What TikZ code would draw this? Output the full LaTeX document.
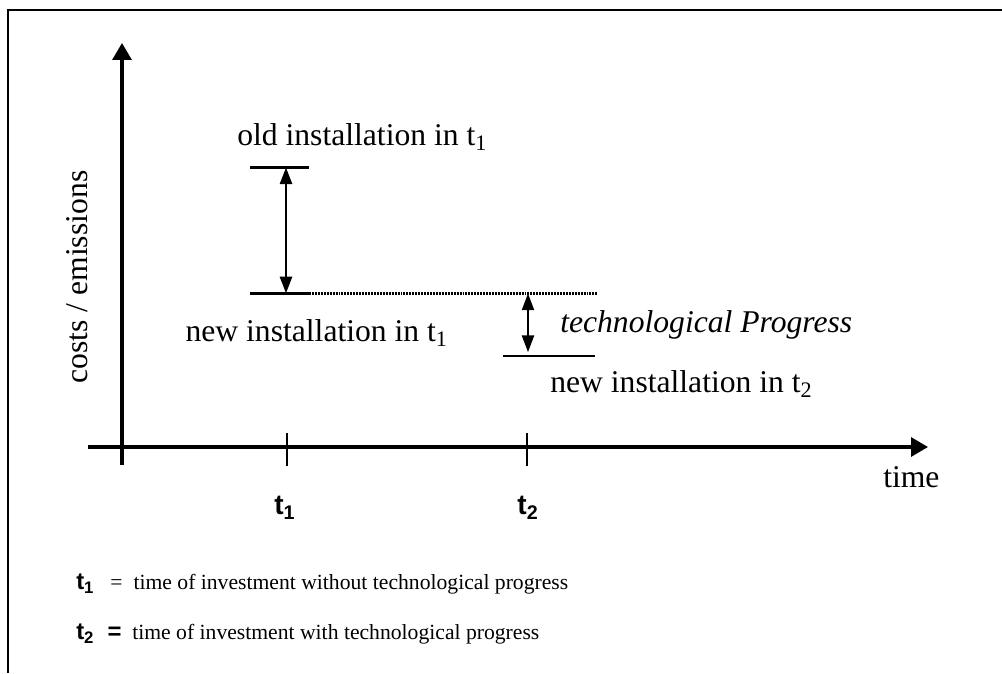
\documentclass[tikz,border=0pt]{standalone}
\usepackage{fontspec}
\setmainfont{Liberation Serif}
\setsansfont{Liberation Sans}
\usetikzlibrary{arrows.meta}

\tikzset{
  axis/.style={line width=2.2pt, -{Triangle[width=0.47cm,length=0.42cm]}},
  level/.style={line width=1.9pt},
  gap/.style={line width=2pt,
    {Triangle[width=0.3cm,length=0.42cm]}-{Triangle[width=0.3cm,length=0.42cm]}},
  lbl/.style={font=\fontsize{22.5}{26}\selectfont, inner sep=0pt},
  tlbl/.style={font=\sffamily\bfseries\fontsize{20}{24}\selectfont, inner sep=0pt},
  legend/.style={font=\fontsize{15.4}{18}\selectfont, inner sep=0pt, anchor=base west},
}

\begin{document}
\begin{tikzpicture}
      \useasboundingbox (0,0) rectangle (25.05,16.825);

      % frame
      \draw[line width=1.6pt] (0.2,0) -- (0.2,16.575) -- (25.05,16.575);

      % axes
      \coordinate (ybot) at (3.05,5.2);
      \coordinate (ytop) at (3.05,15.75);
      \coordinate (xleft) at (2.2,5.65);
      \coordinate (xright) at (23.2,5.65);
      \draw[axis] (ybot) -- (ytop);
      \draw[axis] (xleft) -- (xright);

      % ticks
      \coordinate (tonetop) at (7.175,6.0);
      \coordinate (tonebot) at (7.175,5.175);
      \coordinate (ttwotop) at (13.175,6.0);
      \coordinate (ttwobot) at (13.175,5.175);
      \draw[line width=1.3pt] (tonetop) -- (tonebot);
      \draw[line width=1.3pt] (ttwotop) -- (ttwobot);

      % levels
      \coordinate (oldl) at (6.25,12.64);
      \coordinate (oldr) at (7.725,12.64);
      \coordinate (newl) at (6.25,9.49);
      \coordinate (newr) at (7.725,9.49);
      \coordinate (newend) at (14.925,9.49);
      \coordinate (progl) at (12.575,7.925);
      \coordinate (progr) at (14.875,7.925);
      \draw[level] (oldl) -- (oldr);
      \draw[level] (newl) -- (newr);
      \draw[level, line width=1.6pt, dash pattern=on 1.4pt off 0.7pt] (newr) -- (newend);
      \draw[level] (progl) -- (progr);

      % gaps
      \coordinate (gapatop) at (7.15,12.64);
      \coordinate (gapabot) at (7.15,9.49);
      \coordinate (gapbtop) at (13.2,9.49);
      \coordinate (gapbbot) at (13.2,8.02);
      \draw[gap] (gapatop) -- (gapabot);
      \draw[gap, line width=1.6pt] (gapbtop) -- (gapbbot);

      % labels
      \node[lbl, anchor=base west] (oldlbl) at (5.925,13.175) {old installation in t\textsubscript{1}};
      \node[lbl, anchor=base east] (newlbl) at (11.2,8.275) {new installation in t\textsubscript{1}};
      \node[lbl, anchor=base west] (proglbl) at (14.0,8.5) {\itshape technological Progress};
      \node[lbl, anchor=base west] (newtwolbl) at (13.75,7.0) {new installation in t\textsubscript{2}};
      \node[lbl, anchor=base, rotate=90] (ylbl) at (2.175,9.9) {costs / emissions};
      \node[lbl, anchor=base west] (xlbl) at (22.075,4.625) {time};

      \node[tlbl, anchor=base west] (tone) at (6.85,3.95) {t\textsubscript{1}};
      \node[tlbl, anchor=base west] (ttwo) at (12.93,3.95) {t\textsubscript{2}};

      % legend
      \node[legend] (legone) at (1.9,2.08)
        {{\sffamily\bfseries\fontsize{17}{18}\selectfont t\textsubscript{1}} \ \ = \ time of investment without technological progress};
      \node[legend] (legtwo) at (1.9,0.83)
        {{\sffamily\bfseries\fontsize{17}{18}\selectfont t\textsubscript{2} \ =} \ time of investment with technological progress};
\end{tikzpicture}
\end{document}
